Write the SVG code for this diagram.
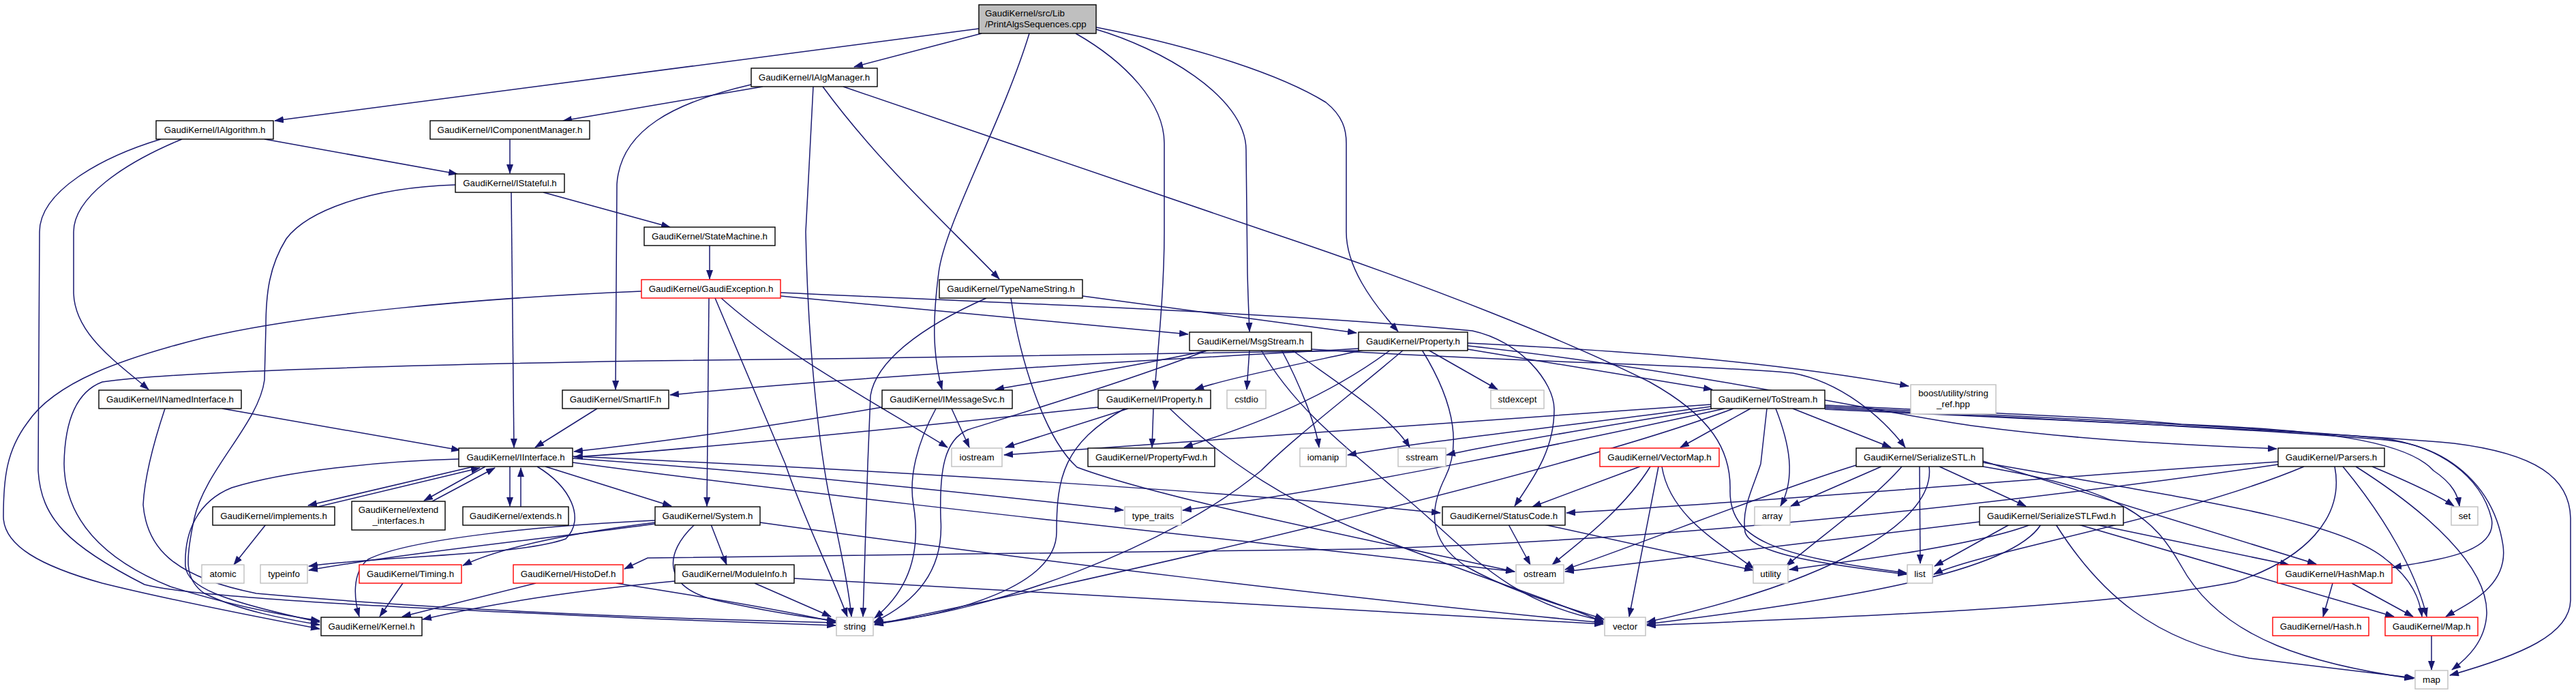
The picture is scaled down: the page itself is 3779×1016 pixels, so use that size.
<svg xmlns="http://www.w3.org/2000/svg" width="3779" height="1016" viewBox="0 0 3779 1016">
<defs>
<marker id="ah" markerUnits="userSpaceOnUse" viewBox="0 0 14 10" markerWidth="14" markerHeight="10" refX="13" refY="5" orient="auto"><path d="M0,0 L14,5 L0,10 z" fill="#191970"/></marker>
<style>
.n rect{fill:#fff;stroke:#000;stroke-width:1.4}
.n.g rect{stroke:#bfbfbf}
.n.r rect{stroke:#ff0000}
.n.root rect{fill:#bfbfbf}
.n text{font-family:"Liberation Sans",Arial,Helvetica,sans-serif;font-size:13.3px;fill:#000;text-anchor:middle}
.n text.l{text-anchor:start}
#edges path{fill:none;stroke:#191970;stroke-width:1.5;marker-end:url(#ah)}
</style>
</defs>
<rect width="3779" height="1016" fill="#fff"/>
<g id="edges">
<path d="M1436,42 L403,177"/>
<path d="M1440,49 L1253,98"/>
<path d="M1510,49 C1470,180 1385,330 1377,400 C1368,470 1368,520 1382,571"/>
<path d="M1578,49 C1650,90 1708,150 1708,210 L1708,340 C1708,420 1700,500 1694,571"/>
<path d="M1608,43 C1700,70 1828,140 1828,220 L1830,400 C1831,440 1832,460 1833,486"/>
<path d="M1608,40 C1760,70 1880,110 1945,150 C1970,170 1975,190 1975,210 L1975,340 C1975,390 2010,440 2051,486"/>
<path d="M1119,127 L826,177"/>
<path d="M1102,124 C990,150 910,190 905,270 L903,571"/>
<path d="M1193,127 L1182,340 C1185,500 1200,640 1215,720 C1230,790 1245,860 1249,904"/>
<path d="M1207,127 C1290,240 1390,330 1466,409"/>
<path d="M1237,127 L1861,340 C2100,420 2300,500 2420,560 C2510,610 2540,660 2538,720 C2538,790 2600,815 2797,840"/>
<path d="M388,204 L671,255"/>
<path d="M267,204 C180,240 108,290 108,340 L108,430 C110,490 170,530 218,571"/>
<path d="M236,204 C150,230 58,280 58,340 L56,690 C60,760 100,800 212,857 C300,880 700,895 950,907 C1100,912 1180,915 1226,917"/>
<path d="M748,204 L748,254"/>
<path d="M750,282 L754,656"/>
<path d="M797,282 L983,333"/>
<path d="M668,271 C540,275 450,310 420,350 C395,390 390,430 390,480 L388,557 C380,620 300,690 285,760 C272,820 270,850 300,870 C350,895 420,908 469,916"/>
<path d="M1041,359 L1041,409"/>
<path d="M941,427 C700,437 450,460 300,495 C180,525 80,560 40,620 C10,660 5,700 5,757 C5,800 60,830 150,855 C250,880 380,905 469,922"/>
<path d="M1145,434 L1743,490"/>
<path d="M1145,429 C1500,445 1900,460 2160,485 C2230,500 2280,560 2280,600 C2280,660 2250,700 2222,742"/>
<path d="M1040,437 L1037,742"/>
<path d="M1049,437 L1152,680 C1175,750 1215,830 1243,904"/>
<path d="M1058,437 C1150,520 1300,600 1390,656"/>
<path d="M1447,437 C1350,480 1285,530 1277,580 L1273,680 L1266,904"/>
<path d="M1588,434 L1990,488"/>
<path d="M1483,437 C1495,520 1530,640 1580,685 C1700,730 2000,790 2222,838"/>
<path d="M1776,513 C1650,540 1520,560 1460,571"/>
<path d="M1833,513 L1829,571"/>
<path d="M1770,514 C1650,560 1500,605 1420,630 C1385,645 1378,690 1380,760 C1385,830 1350,880 1282,912"/>
<path d="M1880,513 C1905,560 1930,620 1935,656"/>
<path d="M1895,513 C1960,560 2040,610 2068,656"/>
<path d="M1924,512 C2200,530 2500,535 2630,547 C2700,560 2760,610 2795,656"/>
<path d="M1850,513 C1900,600 1980,660 2050,720 C2150,800 2200,880 2352,910"/>
<path d="M2001,513 C1900,535 1800,555 1753,571"/>
<path d="M1993,511 C1750,525 1300,548 983,579"/>
<path d="M2040,513 C1950,580 1850,620 1737,656"/>
<path d="M2095,513 L2197,571"/>
<path d="M2153,512 L2512,571"/>
<path d="M2153,503 C2400,515 2600,530 2800,566"/>
<path d="M2153,507 C2500,545 2780,610 2900,625 C3050,645 3200,652 3340,658"/>
<path d="M2059,513 C1980,580 1900,640 1850,690 C1720,800 1450,900 1283,913"/>
<path d="M2086,513 C2140,600 2140,660 2120,700 C2100,740 2090,790 2150,830 C2220,870 2300,890 2353,908"/>
<path d="M1993,514 C1700,520 1300,525 950,529 C600,535 250,545 150,560 C110,575 95,620 94,680 C95,760 150,820 250,860 C330,885 400,900 469,910"/>
<path d="M326,599 L675,660"/>
<path d="M242,599 C225,650 212,700 210,740 C215,800 250,845 376,870 C600,890 900,905 1226,913"/>
<path d="M876,599 L785,656"/>
<path d="M1294,597 C1100,630 950,650 842,662"/>
<path d="M1396,599 L1422,656"/>
<path d="M1373,599 C1345,650 1333,700 1340,740 C1350,800 1340,860 1283,906"/>
<path d="M1611,597 C1300,630 1000,660 842,670"/>
<path d="M1655,599 L1475,656"/>
<path d="M1692,599 L1690,656"/>
<path d="M1650,599 C1560,650 1550,700 1550,780 C1550,860 1400,900 1283,915"/>
<path d="M1716,599 C1800,680 1900,740 2000,780 C2150,840 2280,880 2352,912"/>
<path d="M2510,593 C2200,615 1700,650 1473,667"/>
<path d="M2510,596 C2300,625 2100,645 1977,667"/>
<path d="M2512,599 C2350,625 2200,650 2122,667"/>
<path d="M2568,599 L2465,656"/>
<path d="M2630,599 L2774,656"/>
<path d="M2605,599 C2625,650 2635,700 2612,742"/>
<path d="M2530,599 C2300,650 1950,720 1735,748"/>
<path d="M2543,599 C2300,690 1700,830 1283,916"/>
<path d="M2592,599 L2583,680 C2570,720 2555,745 2560,780 C2570,815 2700,830 2797,842"/>
<path d="M2677,594 C2900,605 3100,612 3200,622 C3400,630 3530,645 3570,690 C3600,710 3606,728 3608,742"/>
<path d="M2677,596 C2950,610 3300,625 3490,642 C3580,652 3640,700 3655,760 C3665,810 3580,820 3510,832"/>
<path d="M2677,598 C2950,612 3300,628 3500,645 C3600,655 3660,720 3672,800 C3680,860 3620,885 3588,904"/>
<path d="M2677,600 C3000,615 3400,632 3600,650 C3720,665 3770,700 3771,760 L3771,880 C3770,930 3700,960 3594,990"/>
<path d="M3342,677 C3000,700 2600,735 2298,752"/>
<path d="M3342,681 C3000,730 2500,790 2000,805 C1500,812 1050,815 950,818 L916,834"/>
<path d="M3380,684 C3200,760 2900,810 2837,842"/>
<path d="M3480,684 C3530,705 3575,725 3600,742"/>
<path d="M3437,684 C3500,760 3545,840 3560,904"/>
<path d="M3425,684 C3440,760 3380,820 3280,853 C3100,890 2700,905 2416,917"/>
<path d="M3456,684 C3560,750 3650,830 3648,900 C3646,940 3620,965 3597,982"/>
<path d="M2845,684 L2972,742"/>
<path d="M2760,684 L2627,742"/>
<path d="M2723,682 C2600,720 2400,800 2296,835"/>
<path d="M2790,684 C2750,730 2680,780 2620,830"/>
<path d="M2816,684 L2817,826"/>
<path d="M2830,684 C2840,760 2700,850 2416,912"/>
<path d="M2909,684 C3120,720 3160,760 3200,830 C3260,940 3400,975 3540,995"/>
<path d="M2909,676 L3398,827"/>
<path d="M2909,678 C3200,730 3430,760 3500,820 C3540,850 3550,880 3553,904"/>
<path d="M3074,769 L3358,828"/>
<path d="M3049,769 L3512,904"/>
<path d="M3016,769 C3080,870 3160,940 3300,965 L3542,994"/>
<path d="M2948,769 L2838,830"/>
<path d="M2979,769 C2900,800 2700,825 2625,835"/>
<path d="M2994,769 C2950,840 2700,880 2416,915"/>
<path d="M2904,765 C2700,790 2450,820 2296,838"/>
<path d="M3422,855 L3408,904"/>
<path d="M3450,855 L3540,904"/>
<path d="M3567,932 L3567,982"/>
<path d="M2406,684 L2248,743"/>
<path d="M2421,684 C2380,750 2310,800 2277,828"/>
<path d="M2433,684 L2390,904"/>
<path d="M2438,684 C2450,760 2530,800 2573,834"/>
<path d="M2213,769 L2245,828"/>
<path d="M2265,769 L2572,836"/>
<path d="M800,684 L985,742"/>
<path d="M673,673 C560,676 420,690 340,715 C290,735 270,780 272,830 C275,860 320,880 469,912"/>
<path d="M695,684 L452,741"/>
<path d="M462,744 L704,686"/>
<path d="M712,684 L622,734"/>
<path d="M634,735 L726,686"/>
<path d="M748,684 L748,742"/>
<path d="M764,743 L764,686"/>
<path d="M840,669 C1300,690 1800,720 2113,752"/>
<path d="M840,672 C1100,690 1400,720 1648,748"/>
<path d="M840,678 C1300,740 1900,800 2222,838"/>
<path d="M788,684 C836,713 860,760 830,790 C760,815 560,815 453,830"/>
<path d="M1043,769 L1066,828"/>
<path d="M1019,769 C975,810 970,860 1050,880 C1120,895 1180,905 1226,910"/>
<path d="M961,763 C800,770 600,790 540,820 C515,840 520,880 527,904"/>
<path d="M961,766 C850,780 740,800 679,829"/>
<path d="M961,768 C800,790 600,810 453,836"/>
<path d="M1115,766 C1500,820 2000,880 2352,913"/>
<path d="M990,852 C850,865 720,885 620,908"/>
<path d="M1107,855 L1219,904"/>
<path d="M1165,848 C1600,870 2000,895 2352,915"/>
<path d="M591,855 L557,904"/>
<path d="M786,855 L590,904"/>
<path d="M904,855 C1000,870 1150,895 1226,912"/>
<path d="M390,769 L343,828"/>
</g>
<g id="node-cpp" class="n root"><rect x="1436" y="7" width="172" height="42"/><text class="l" x="1445" y="24">GaudiKernel/src/Lib</text><text class="l" x="1445" y="40">/PrintAlgsSequences.cpp</text></g>
<g id="node-IAlgManager" class="n"><rect x="1102" y="100" width="185" height="27"/><text x="1194.5" y="118">GaudiKernel/IAlgManager.h</text></g>
<g id="node-IAlgorithm" class="n"><rect x="229" y="177" width="172" height="27"/><text x="315" y="195">GaudiKernel/IAlgorithm.h</text></g>
<g id="node-IComponentManager" class="n"><rect x="631" y="177" width="234" height="27"/><text x="748" y="195">GaudiKernel/IComponentManager.h</text></g>
<g id="node-IStateful" class="n"><rect x="668" y="255" width="160" height="27"/><text x="748" y="273">GaudiKernel/IStateful.h</text></g>
<g id="node-StateMachine" class="n"><rect x="945" y="333" width="192" height="27"/><text x="1041" y="351">GaudiKernel/StateMachine.h</text></g>
<g id="node-GaudiException" class="n r"><rect x="941" y="410" width="204" height="27"/><text x="1043" y="428">GaudiKernel/GaudiException.h</text></g>
<g id="node-TypeNameString" class="n"><rect x="1378" y="410" width="210" height="27"/><text x="1483" y="428">GaudiKernel/TypeNameString.h</text></g>
<g id="node-MsgStream" class="n"><rect x="1745" y="487" width="179" height="27"/><text x="1834.5" y="505">GaudiKernel/MsgStream.h</text></g>
<g id="node-Property" class="n"><rect x="1993" y="487" width="160" height="27"/><text x="2073" y="505">GaudiKernel/Property.h</text></g>
<g id="node-INamedInterface" class="n"><rect x="145" y="572" width="209" height="27"/><text x="249.5" y="590">GaudiKernel/INamedInterface.h</text></g>
<g id="node-SmartIF" class="n"><rect x="825" y="572" width="156" height="27"/><text x="903" y="590">GaudiKernel/SmartIF.h</text></g>
<g id="node-IMessageSvc" class="n"><rect x="1294" y="572" width="191" height="27"/><text x="1389.5" y="590">GaudiKernel/IMessageSvc.h</text></g>
<g id="node-IProperty" class="n"><rect x="1611" y="572" width="165" height="27"/><text x="1693.5" y="590">GaudiKernel/IProperty.h</text></g>
<g id="node-cstdio" class="n g"><rect x="1800" y="572" width="57" height="27"/><text x="1828.5" y="590">cstdio</text></g>
<g id="node-stdexcept" class="n g"><rect x="2187" y="572" width="78" height="27"/><text x="2226" y="590">stdexcept</text></g>
<g id="node-ToStream" class="n"><rect x="2510" y="572" width="167" height="27"/><text x="2593.5" y="590">GaudiKernel/ToStream.h</text></g>
<g id="node-boost" class="n g"><rect x="2803" y="564" width="125" height="43"/><text x="2865.5" y="581">boost/utility/string</text><text x="2865.5" y="597">_ref.hpp</text></g>
<g id="node-IInterface" class="n"><rect x="673" y="657" width="167" height="27"/><text x="756.5" y="675">GaudiKernel/IInterface.h</text></g>
<g id="node-iostream" class="n g"><rect x="1396" y="657" width="74" height="27"/><text x="1433" y="675">iostream</text></g>
<g id="node-PropertyFwd" class="n"><rect x="1596" y="657" width="186" height="27"/><text x="1689" y="675">GaudiKernel/PropertyFwd.h</text></g>
<g id="node-iomanip" class="n g"><rect x="1907" y="657" width="68" height="27"/><text x="1941" y="675">iomanip</text></g>
<g id="node-sstream" class="n g"><rect x="2051" y="657" width="70" height="27"/><text x="2086" y="675">sstream</text></g>
<g id="node-VectorMap" class="n r"><rect x="2347" y="657" width="175" height="27"/><text x="2434.5" y="675">GaudiKernel/VectorMap.h</text></g>
<g id="node-SerializeSTL" class="n"><rect x="2723" y="657" width="186" height="27"/><text x="2816" y="675">GaudiKernel/SerializeSTL.h</text></g>
<g id="node-Parsers" class="n"><rect x="3342" y="657" width="156" height="27"/><text x="3420" y="675">GaudiKernel/Parsers.h</text></g>
<g id="node-implements" class="n"><rect x="312" y="743" width="179" height="27"/><text x="401.5" y="761">GaudiKernel/implements.h</text></g>
<g id="node-extend_interfaces" class="n"><rect x="516" y="735" width="137" height="42"/><text x="584.5" y="752">GaudiKernel/extend</text><text x="584.5" y="768">_interfaces.h</text></g>
<g id="node-extends" class="n"><rect x="679" y="743" width="155" height="27"/><text x="756.5" y="761">GaudiKernel/extends.h</text></g>
<g id="node-System" class="n"><rect x="961" y="743" width="154" height="27"/><text x="1038" y="761">GaudiKernel/System.h</text></g>
<g id="node-type_traits" class="n g"><rect x="1650" y="743" width="83" height="27"/><text x="1691.5" y="761">type_traits</text></g>
<g id="node-StatusCode" class="n"><rect x="2116" y="743" width="180" height="27"/><text x="2206" y="761">GaudiKernel/StatusCode.h</text></g>
<g id="node-array" class="n g"><rect x="2574" y="743" width="52" height="27"/><text x="2600" y="761">array</text></g>
<g id="node-SerializeSTLFwd" class="n"><rect x="2904" y="743" width="211" height="27"/><text x="3009.5" y="761">GaudiKernel/SerializeSTLFwd.h</text></g>
<g id="node-set" class="n g"><rect x="3596" y="743" width="39" height="27"/><text x="3615.5" y="761">set</text></g>
<g id="node-atomic" class="n g"><rect x="296" y="828" width="62" height="27"/><text x="327" y="846">atomic</text></g>
<g id="node-typeinfo" class="n g"><rect x="382" y="828" width="69" height="27"/><text x="416.5" y="846">typeinfo</text></g>
<g id="node-Timing" class="n r"><rect x="527" y="828" width="150" height="27"/><text x="602" y="846">GaudiKernel/Timing.h</text></g>
<g id="node-HistoDef" class="n r"><rect x="753" y="828" width="161" height="27"/><text x="833.5" y="846">GaudiKernel/HistoDef.h</text></g>
<g id="node-ModuleInfo" class="n"><rect x="990" y="828" width="175" height="27"/><text x="1077.5" y="846">GaudiKernel/ModuleInfo.h</text></g>
<g id="node-ostream" class="n g"><rect x="2224" y="828" width="70" height="27"/><text x="2259" y="846">ostream</text></g>
<g id="node-utility" class="n g"><rect x="2572" y="828" width="51" height="27"/><text x="2597.5" y="846">utility</text></g>
<g id="node-list" class="n g"><rect x="2798" y="828" width="37" height="27"/><text x="2816.5" y="846">list</text></g>
<g id="node-HashMap" class="n r"><rect x="3341" y="828" width="168" height="27"/><text x="3425" y="846">GaudiKernel/HashMap.h</text></g>
<g id="node-Kernel" class="n"><rect x="471" y="905" width="148" height="27"/><text x="545" y="923">GaudiKernel/Kernel.h</text></g>
<g id="node-string" class="n g"><rect x="1227" y="905" width="54" height="27"/><text x="1254" y="923">string</text></g>
<g id="node-vector" class="n g"><rect x="2354" y="905" width="60" height="27"/><text x="2384" y="923">vector</text></g>
<g id="node-Hash" class="n r"><rect x="3334" y="905" width="141" height="27"/><text x="3404.5" y="923">GaudiKernel/Hash.h</text></g>
<g id="node-Map" class="n r"><rect x="3499" y="905" width="136" height="27"/><text x="3567" y="923">GaudiKernel/Map.h</text></g>
<g id="node-map" class="n g"><rect x="3543" y="983" width="48" height="27"/><text x="3567" y="1001">map</text></g>
</svg>
